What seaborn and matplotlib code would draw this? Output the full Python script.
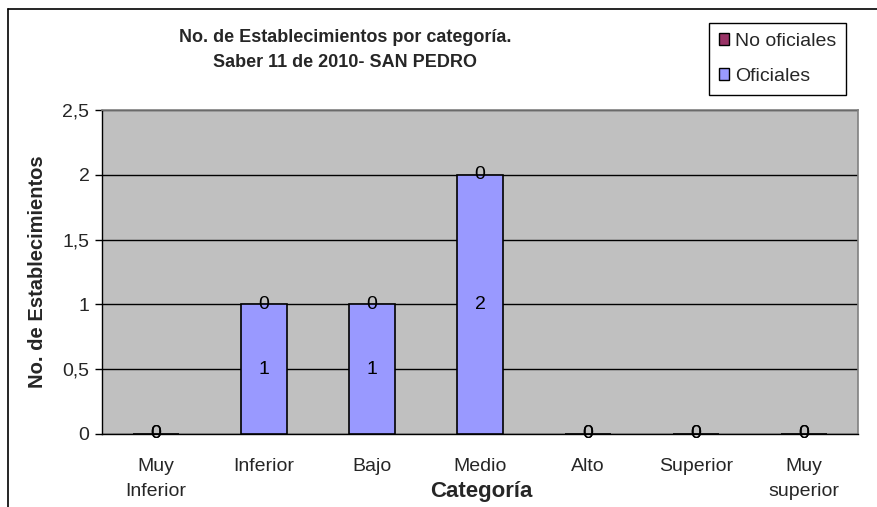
import matplotlib
matplotlib.use("Agg")
import matplotlib.pyplot as plt
from matplotlib.patches import Patch
from matplotlib.lines import Line2D
from matplotlib.ticker import FuncFormatter, FixedLocator
import seaborn as sns
import pandas as pd
import numpy as np

# Establecimientos por categoría, Saber 11 de 2010 - San Pedro
categorias = ["Muy\nInferior", "Inferior", "Bajo", "Medio", "Alto", "Superior", "Muy\nsuperior"]
oficiales = [0, 1, 1, 2, 0, 0, 0]
no_oficiales = [0, 0, 0, 0, 0, 0, 0]

color_oficiales = "#9999FF"
color_no_oficiales = "#993366"

sns.set_style("white")
plt.rcParams["font.family"] = ["Liberation Sans", "DejaVu Sans"]

df = pd.DataFrame({"categoria": categorias,
                   "oficiales": oficiales,
                   "no_oficiales": no_oficiales})

W, H = 878, 507
fig = plt.figure(figsize=(W / 100, H / 100), dpi=100)
ax = fig.add_axes([102 / W, 1 - 434 / H, (858 - 102) / W, (434 - 110) / H])
ax.set_facecolor("#C0C0C0")

# stacked bars: oficiales at the bottom, no oficiales on top
sns.barplot(data=df, x="categoria", y="oficiales", order=categorias,
            color=color_oficiales, saturation=1, width=0.42,
            edgecolor="black", linewidth=1.2, ax=ax, zorder=3)
sns.barplot(data=df, x="categoria", y="no_oficiales", order=categorias,
            color=color_no_oficiales, saturation=1, width=0.42,
            edgecolor="none", linewidth=0, bottom=oficiales, ax=ax, zorder=3)

for cont in ax.containers:
    ax.bar_label(cont, labels=[f"{v:g}" for v in cont.datavalues],
                 label_type="center", fontsize=14, color="black", zorder=5)

ax.set_ylim(0, 2.5)
ax.set_xlim(-0.5, len(categorias) - 0.5)
ax.set_yticks(np.arange(0, 2.51, 0.5))
ax.yaxis.set_major_formatter(FuncFormatter(lambda v, p: f"{v:g}".replace(".", ",")))
ax.yaxis.grid(True, color="black", linewidth=1.0, zorder=1)
ax.set_axisbelow(True)

# category boundaries as tick marks on the x axis
ax.xaxis.set_minor_locator(FixedLocator(np.arange(-0.5, len(categorias), 1.0)))
ax.tick_params(axis="x", which="major", length=0, pad=17, labelsize=14)
ax.tick_params(axis="x", which="minor", length=5, width=1, color="black", direction="out")
ax.tick_params(axis="y", which="major", length=5, width=1, color="black",
               direction="out", labelsize=14, pad=4, left=True)

for side in ["top", "right"]:
    ax.spines[side].set_color("#808080")
    ax.spines[side].set_linewidth(1.2)
for side in ["left", "bottom"]:
    ax.spines[side].set_color("black")
    ax.spines[side].set_linewidth(1.0)

ax.set_xlabel("Categoría", fontsize=16, fontweight="bold")
ax.set_ylabel("No. de Establecimientos", fontsize=14.5, fontweight="bold")
ax.xaxis.set_label_coords((481 - 102) / (858 - 102), -(492 - 434) / (434 - 110))
ax.yaxis.set_label_coords((38 - 102) / (858 - 102), 0.5)
ax.xaxis.label.set_va("center")
ax.yaxis.label.set_va("center")

fig.text(345 / W, 1 - 50 / H,
         "No. de Establecimientos por categoría.\nSaber 11 de 2010- SAN PEDRO",
         ha="center", va="center", fontsize=13, fontweight="bold", linespacing=1.6)

handles = [Patch(facecolor=color_no_oficiales, edgecolor="black", linewidth=1),
           Patch(facecolor=color_oficiales, edgecolor="black", linewidth=1)]
leg = fig.legend(handles, ["No oficiales", "Oficiales"],
                 loc="upper left", bbox_to_anchor=(709 / W, 1 - 23 / H),
                 fontsize=14, frameon=True, fancybox=False, framealpha=1,
                 edgecolor="black", handlelength=0.55, handleheight=0.55,
                 handletextpad=0.3, labelspacing=0.95, borderpad=0.5,
                 borderaxespad=0)
leg.get_frame().set_linewidth(1.0)

# outer chart frame (top and left edges)
fig.add_artist(Line2D([8 / W, 1], [1 - 9 / H, 1 - 9 / H],
                      color="black", linewidth=1.2, transform=fig.transFigure))
fig.add_artist(Line2D([8 / W, 8 / W], [0, 1 - 9 / H],
                      color="black", linewidth=1.2, transform=fig.transFigure))

# wider spacing for the two-line category labels
fig.canvas.draw()
for lbl in ax.xaxis.get_ticklabels():
    lbl.set_linespacing(1.65)

fig.savefig("out.png", dpi=100)
